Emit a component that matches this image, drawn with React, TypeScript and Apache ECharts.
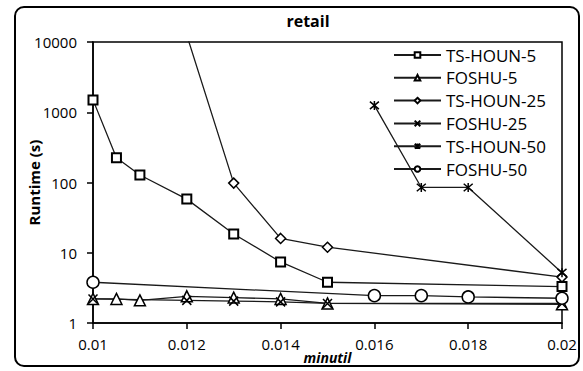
import React, { useEffect, useRef } from "react";
import * as echarts from "echarts";

const seriesNames = ["TS-HOUN-5", "FOSHU-5", "TS-HOUN-25", "FOSHU-25", "TS-HOUN-50", "FOSHU-50"];

const tsHoun5: [number, number][] = [
  [0.01, 1500], [0.0105, 225], [0.011, 128], [0.012, 58], [0.013, 18.5], [0.014, 7.4], [0.015, 3.8], [0.02, 3.3],
];
const foshu5: [number, number][] = [
  [0.01, 2.2], [0.0105, 2.2], [0.011, 2.1], [0.012, 2.4], [0.013, 2.3], [0.014, 2.2], [0.015, 1.9], [0.02, 1.85],
];
const tsHoun25: [number, number][] = [
  [0.012, 12500], [0.013, 98], [0.014, 16], [0.015, 12], [0.02, 4.5],
];
const foshu25: [number, number][] = [
  [0.01, 2.2], [0.012, 2.1], [0.013, 2.05], [0.014, 2.0], [0.015, 1.9], [0.02, 1.9],
];
const tsHoun50: [number, number][] = [
  [0.016, 1250], [0.017, 85], [0.018, 85], [0.02, 5.2],
];
const foshu50: [number, number][] = [
  [0.01, 3.8], [0.016, 2.45], [0.017, 2.45], [0.018, 2.35], [0.02, 2.25],
];

const FONT = "Open Sans";
const XSYM = "path://M0,0L10,10M10,0L0,10";
const STARSYM = "path://M0,0L10,10M10,0L0,10M5,-1L5,11";

export default function App() {
  const ref = useRef<HTMLDivElement>(null);
  useEffect(() => {
    if (!ref.current) return;
    const chart = echarts.init(ref.current, undefined, { renderer: "svg" });
    const line = { color: "#1a1a1a", width: 1.3 };
    const hollow = { color: "#fff", borderColor: "#000", borderWidth: 1.5 };
    const stroke = { color: "none", borderColor: "#000", borderWidth: 1.5 };
    const mk = (name: string, data: [number, number][], symbol: string, size: number, item: any) => ({
      name,
      type: "line",
      data,
      symbol,
      symbolSize: size,
      showAllSymbol: true,
      lineStyle: line,
      itemStyle: item,
      clip: true,
      z: 3,
    });
    chart.setOption({
      animation: false,
      title: {
        text: "retail",
        left: 303,
        top: 8,
        textAlign: "center",
        textStyle: { fontFamily: FONT, fontWeight: "bold", fontSize: 16, color: "#000" },
      },
      legend: {
        orient: "vertical",
        left: 393,
        top: 45,
        padding: 0,
        itemWidth: 47,
        itemHeight: 7,
        itemGap: 2.8,
        data: seriesNames,
        textStyle: { fontFamily: FONT, fontSize: 17, color: "#000", lineHeight: 20 },
      },
      grid: {
        left: 93,
        right: 21,
        top: 42,
        bottom: 48,
        containLabel: false,
        outerBoundsMode: "none",
        show: true,
        borderColor: "#000",
        borderWidth: 1.5,
        backgroundColor: "transparent",
      },
      xAxis: {
        type: "value",
        min: 0.01,
        max: 0.02,
        interval: 0.002,
        name: "minutil",
        nameLocation: "middle",
        nameGap: 27,
        nameMoveOverlap: false,
        nameTextStyle: { fontFamily: FONT, fontSize: 14, fontWeight: "bold", fontStyle: "italic", color: "#000" },
        axisLine: { lineStyle: { color: "#000", width: 1.5 } },
        axisTick: { show: true, inside: false, length: 6, lineStyle: { color: "#000", width: 1.5 } },
        axisLabel: {
          fontFamily: FONT,
          fontSize: 15,
          color: "#000",
          margin: 13,
          formatter: (v: number) => String(parseFloat(v.toFixed(4))),
        },
        splitLine: { show: false },
      },
      yAxis: {
        type: "log",
        logBase: 10,
        min: 1,
        max: 10000,
        name: "Runtime (s)",
        nameLocation: "middle",
        nameGap: 52,
        nameMoveOverlap: false,
        nameTextStyle: { fontFamily: FONT, fontSize: 15, fontWeight: "bold", color: "#000" },
        axisLine: { show: true, lineStyle: { color: "#000", width: 1.5 } },
        axisTick: { show: true, inside: false, length: 6, lineStyle: { color: "#000", width: 1.5 } },
        axisLabel: {
          fontFamily: FONT,
          fontSize: 15,
          color: "#000",
          margin: 16,
          formatter: (v: number) => String(Math.round(v)),
        },
        splitLine: { show: false },
        minorTick: { show: false },
      },
      series: [
        mk("TS-HOUN-5", tsHoun5, "rect", 9, { color: "#fff", borderColor: "#000", borderWidth: 2 }),
        mk("FOSHU-5", foshu5, "triangle", 11, hollow),
        mk("TS-HOUN-25", tsHoun25, "diamond", 10, hollow),
        mk("FOSHU-25", foshu25, XSYM, 9, stroke),
        mk("TS-HOUN-50", tsHoun50, STARSYM, 9, stroke),
        mk("FOSHU-50", foshu50, "circle", 12, hollow),
      ],
      graphic: [
        {
          type: "rect",
          shape: { x: 15, y: 7, width: 564, height: 359, r: 9 },
          style: { fill: "none", stroke: "#000", lineWidth: 2 },
          silent: true,
        },
      ],
    });
    return () => chart.dispose();
  }, []);
  return (
    <div
      ref={ref}
      style={{ position: "fixed", left: 0, top: 0, width: 583, height: 371, background: "#fff" }}
    />
  );
}
